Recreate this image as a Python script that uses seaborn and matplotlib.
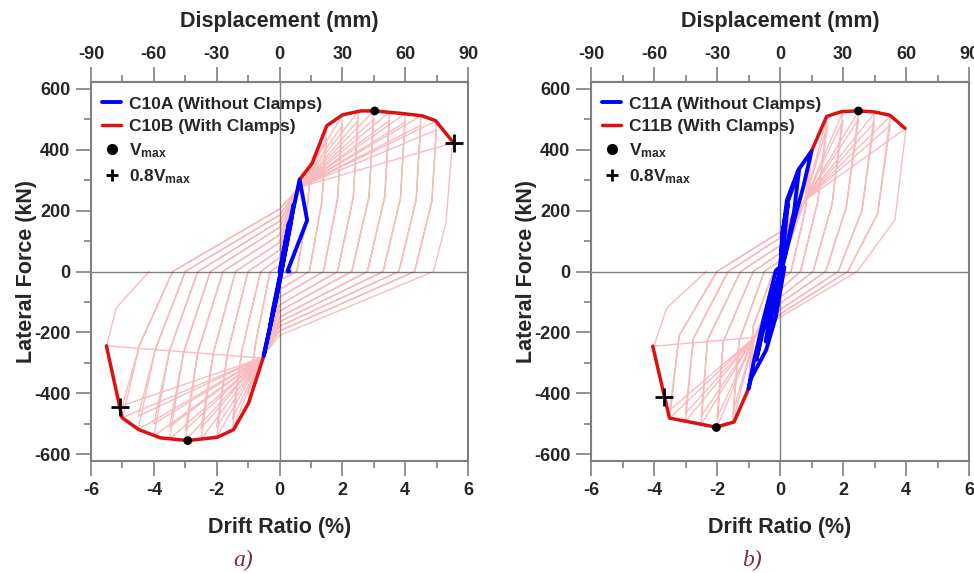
import numpy as np
import pandas as pd
import matplotlib
matplotlib.use('Agg')
import matplotlib.pyplot as plt
from matplotlib.lines import Line2D
from matplotlib.ticker import MultipleLocator
import seaborn as sns

# ---- data (drift in %, force in kN) ----
# panel a) C10A / C10B
c10a_drift = [0, 0.15, 0.3, 0.2, 0.05, -0.1, -0.3, -0.2, 0.0, 0.2, 0.45, 0.35, 0.1, -0.05,
              -0.3, -0.5, -0.4, -0.1, 0.1, 0.35, 0.64, 0.88, 0.25, 0.32]
c10a_force = [0, 80, 160, 100, 0, -80, -180, -120, -20, 100, 220, 150, 20, -60,
              -180, -277, -230, -90, 20, 160, 302, 168, 0, 0]

c10b_env_pos_drift = [0.64, 1.04, 1.5, 2.0, 2.58, 3.03, 3.96, 4.54, 4.97, 5.55]
c10b_env_pos_force = [302, 355, 478, 514, 527, 527, 518, 511, 495, 421]
c10b_env_neg_drift = [-0.5, -0.98, -1.46, -1.98, -2.92, -3.79, -4.48, -5.01, -5.51]
c10b_env_neg_force = [-277, -431, -519, -544, -555, -546, -519, -480, -244]

c10b_pos_level = [1.0, 1.5, 2.0, 2.5, 3.0, 3.5, 4.0, 4.5, 5.0, 5.5]
c10b_pos_f1 = [355, 478, 514, 525, 527, 523, 518, 511, 495, 421]
c10b_pos_f2 = [330, 440, 480, 495, 500, 495, 490, 480, 465]
c10b_pos_knee_d = [0.85, 1.35, 1.85, 2.35, 2.85, 3.35, 3.85, 4.35, 4.85, 5.3]
c10b_pos_knee_f = [170, 230, 240, 245, 245, 245, 240, 235, 230, 160]
c10b_pos_cross = [0.55, 0.95, 1.4, 1.85, 2.3, 2.8, 3.3, 3.8, 4.3, 4.9]
c10b_neg_zero = [-30, -60, -85, -110, -130, -150, -165, -180, -195, -210]
c10b_neg_level = [-1.0, -1.5, -2.0, -2.5, -3.0, -3.5, -4.0, -4.5, -5.0, -5.5]
c10b_neg_f1 = [-431, -519, -544, -551, -555, -550, -540, -519, -480, -244]
c10b_neg_f2 = [-400, -485, -510, -515, -520, -510, -500, -475, -440]
c10b_neg_knee_d = [-0.75, -1.2, -1.65, -2.1, -2.6, -3.05, -3.5, -3.95, -4.45, -5.2]
c10b_neg_knee_f = [-230, -260, -265, -265, -265, -265, -260, -255, -240, -120]
c10b_neg_cross = [-0.3, -0.6, -1.0, -1.4, -1.8, -2.2, -2.6, -3.0, -3.4, -4.15]
c10b_pos_zero = [20, 45, 70, 95, 120, 145, 165, 185, 205, 225]
c10b_pinch = [(0.64, 277), (-0.57, -284)]

c10_vmax_drift = [3.03, -2.92]
c10_vmax_force = [527, -555]
c10_v80_drift = [5.55, -5.09]
c10_v80_force = [421, -445]

# panel b) C11A / C11B
c11a_drift = [0, 0.08, 0.25, 0.15, 0.0, -0.2, -0.45, -0.3, 0.0,
              0.08, 0.25, 0.6, 0.45, 0.15, -0.1, -0.5, -0.75, -0.55, -0.2, 0.02,
              0.08, 0.22, 0.58, 1.0, 0.74, 0.42, 0.1, -0.13, -0.5, -0.82, -1.0,
              -0.92, -0.44, -0.13, 0.14, 0.0]
c11a_force = [0, 120, 220, 120, 0, -120, -230, -130, 0,
              130, 230, 330, 200, 50, -40, -160, -290, -200, -80, 0,
              120, 234, 333, 395, 278, 157, 25, 3, -148, -290, -385,
              -351, -258, -148, 14, 0]

c11b_env_pos_drift = [1.0, 1.48, 1.96, 2.49, 2.98, 3.49, 3.97]
c11b_env_pos_force = [395, 509, 525, 527, 524, 513, 470]
c11b_env_neg_drift = [-1.0, -1.46, -2.03, -3.51, -4.04]
c11b_env_neg_force = [-385, -494, -511, -481, -245]

c11b_pos_level = [1.0, 1.5, 2.0, 2.5, 3.0, 3.5, 4.0]
c11b_pos_f1 = [395, 508, 525, 527, 520, 510, 470]
c11b_pos_f2 = [370, 475, 495, 500, 490, 480]
c11b_pos_knee_d = [0.8, 1.2, 1.65, 2.1, 2.6, 3.1, 3.65]
c11b_pos_knee_f = [200, 230, 220, 210, 200, 190, 170]
c11b_pos_cross = [0.35, 0.65, 1.05, 1.45, 1.85, 2.15, 2.45]
c11b_neg_zero = [-30, -60, -85, -105, -125, -140, -150]
c11b_neg_level = [-1.0, -1.5, -2.0, -2.5, -3.0, -3.5, -4.0]
c11b_neg_f1 = [-385, -497, -511, -502, -492, -481, -245]
c11b_neg_f2 = [-360, -465, -480, -475, -465, -455]
c11b_neg_knee_d = [-0.85, -1.3, -1.8, -2.3, -2.75, -3.2, -3.6]
c11b_neg_knee_f = [-180, -230, -230, -225, -220, -210, -120]
c11b_neg_cross = [-0.2, -0.5, -0.85, -1.25, -1.65, -2.0, -2.34]
c11b_pos_zero = [15, 35, 60, 85, 110, 130, 145]
c11b_pinch = [(0.79, 234), (-0.82, -217)]

c11_vmax_drift = [2.49, -2.02]
c11_vmax_force = [527, -512]
c11_v80_drift = [-3.68]
c11_v80_force = [-411]


def loops_table(pos_lv, pos_f1, pos_f2, pos_kd, pos_kf, pos_cross, neg_zero,
                neg_lv, neg_f1, neg_f2, neg_kd, neg_kf, neg_cross, pos_zero, pinch):
    # chain the read-off key points of each cycle into one path
    d, f = [0.0], [0.0]
    n = len(pos_lv)
    for i in range(n):
        peaks = [(pos_f1[i], neg_f1[i])]
        if i < len(pos_f2):
            peaks.append((pos_f2[i], neg_f2[i]))
        for k, (fp, fn) in enumerate(peaks):
            d += [pinch[0][0], pos_lv[i], pos_kd[i], pos_cross[i], 0.0,
                  pinch[1][0], neg_lv[i], neg_kd[i], neg_cross[i]]
            f += [pinch[0][1], fp, pos_kf[i], 0.0, neg_zero[i],
                  pinch[1][1], fn, neg_kf[i], 0.0]
            if not (i == n - 1 and k == len(peaks) - 1):
                d.append(0.0)
                f.append(pos_zero[i])
    return pd.DataFrame({'drift': d, 'force': f})


c10b_loops = loops_table(c10b_pos_level, c10b_pos_f1, c10b_pos_f2, c10b_pos_knee_d, c10b_pos_knee_f,
                         c10b_pos_cross, c10b_neg_zero,
                         c10b_neg_level, c10b_neg_f1, c10b_neg_f2, c10b_neg_knee_d, c10b_neg_knee_f,
                         c10b_neg_cross, c10b_pos_zero, c10b_pinch)
c11b_loops = loops_table(c11b_pos_level, c11b_pos_f1, c11b_pos_f2, c11b_pos_knee_d, c11b_pos_knee_f,
                         c11b_pos_cross, c11b_neg_zero,
                         c11b_neg_level, c11b_neg_f1, c11b_neg_f2, c11b_neg_knee_d, c11b_neg_knee_f,
                         c11b_neg_cross, c11b_pos_zero, c11b_pinch)

# ---- style ----
sns.set_theme(style='white')
plt.rcParams['font.family'] = ['Liberation Sans', 'DejaVu Sans']
plt.rcParams['font.weight'] = 'bold'
plt.rcParams['axes.labelweight'] = 'bold'
plt.rcParams['axes.unicode_minus'] = False
plt.rcParams['mathtext.fontset'] = 'custom'
plt.rcParams['mathtext.rm'] = 'Liberation Sans:bold'
plt.rcParams['mathtext.it'] = 'Liberation Sans:bold'
plt.rcParams['mathtext.bf'] = 'Liberation Sans:bold'

RED = '#dd1111'
THIN = '#e8232a'
BLUE = '#0000ff'
GRAY = '#7f7f7f'

fig = plt.figure(figsize=(9.74, 5.73), dpi=100)
ax_a = fig.add_axes([91 / 974, 1 - 461 / 573, 377 / 974, 379 / 573])
ax_b = fig.add_axes([591 / 974, 1 - 461 / 573, 378 / 974, 379 / 573])

panels = [
    (ax_a, 'C10', c10a_drift, c10a_force, c10b_loops,
     (c10b_env_pos_drift, c10b_env_pos_force), (c10b_env_neg_drift, c10b_env_neg_force),
     (c10_vmax_drift, c10_vmax_force), (c10_v80_drift, c10_v80_force), 'a)', 0.403),
    (ax_b, 'C11', c11a_drift, c11a_force, c11b_loops,
     (c11b_env_pos_drift, c11b_env_pos_force), (c11b_env_neg_drift, c11b_env_neg_force),
     (c11_vmax_drift, c11_vmax_force), (c11_v80_drift, c11_v80_force), 'b)', 0.426),
]

for ax, name, a_d, a_f, loops, env_p, env_n, vmax, v80, tag, tag_x in panels:
    ax.axhline(0, color=GRAY, lw=1, zorder=1)
    ax.axvline(0, color=GRAY, lw=1, zorder=1)

    sns.lineplot(data=loops, x='drift', y='force', sort=False, estimator=None,
                 color=THIN, alpha=0.3, lw=1.0, ax=ax, zorder=2)
    sns.lineplot(x=env_p[0], y=env_p[1], sort=False, estimator=None, color=RED, lw=2.5, ax=ax, zorder=3)
    sns.lineplot(x=env_n[0], y=env_n[1], sort=False, estimator=None, color=RED, lw=2.5, ax=ax, zorder=3)
    sns.lineplot(x=a_d, y=a_f, sort=False, estimator=None, color=BLUE, lw=2.8, ax=ax, zorder=4)
    sns.scatterplot(x=vmax[0], y=vmax[1], color='black', s=40, edgecolor='none', ax=ax, zorder=5)
    sns.scatterplot(x=v80[0], y=v80[1], color='black', marker='+', s=160, linewidth=2, ax=ax, zorder=5)

    ax.set_xlim(-6, 6)
    ax.set_ylim(-622, 622)
    ax.xaxis.set_major_locator(MultipleLocator(2))
    ax.xaxis.set_minor_locator(MultipleLocator(1))
    ax.yaxis.set_major_locator(MultipleLocator(200))
    ax.yaxis.set_minor_locator(MultipleLocator(100))
    ax.tick_params(which='major', direction='out', length=11, width=1.2, color=GRAY,
                   labelsize=13, pad=4, bottom=True, left=True)
    ax.tick_params(which='minor', direction='out', length=5, width=1.2, color=GRAY,
                   bottom=True, left=True)
    for lab in ax.get_xticklabels() + ax.get_yticklabels():
        lab.set_fontweight('bold')
    for sp in ax.spines.values():
        sp.set_color(GRAY)
        sp.set_linewidth(1.5)

    ax.set_xlabel('Drift Ratio (%)', fontsize=15.5, fontweight='bold', labelpad=13)
    ax.set_ylabel('Lateral Force (kN)', fontsize=15.5, fontweight='bold', labelpad=-2)

    top = ax.secondary_xaxis('top', functions=(lambda x: x * 15, lambda x: x / 15))
    top.xaxis.set_major_locator(MultipleLocator(30))
    top.xaxis.set_minor_locator(MultipleLocator(15))
    top.tick_params(which='major', direction='out', length=11, width=1.2, color=GRAY,
                    labelsize=13, pad=3)
    top.tick_params(which='minor', direction='out', length=5, width=1.2, color=GRAY)
    for lab in top.get_xticklabels():
        lab.set_fontweight('bold')
    top.spines['top'].set_color(GRAY)
    top.spines['top'].set_linewidth(1.5)
    top.set_xlabel('Displacement (mm)', fontsize=15.5, fontweight='bold', labelpad=13)

    handles = [
        Line2D([], [], color=BLUE, lw=2.8),
        Line2D([], [], color=RED, lw=2.5),
        Line2D([], [], color='black', marker='o', ls='none', markersize=7),
        Line2D([], [], color='black', marker='+', ls='none', markersize=8, markeredgewidth=2),
    ]
    labels = [f'{name}A (Without Clamps)', f'{name}B (With Clamps)',
              r'$\mathrm{V_{max}}$', r'$\mathrm{0.8V_{max}}$']
    ax.legend(handles, labels, loc='upper left', bbox_to_anchor=(0.03, 0.962),
              frameon=False, handlelength=1.1, handletextpad=0.45,
              labelspacing=0.42, borderaxespad=0, borderpad=0,
              prop={'weight': 'bold', 'size': 12.5})

    pos = ax.get_position()
    fig.text(pos.x0 + pos.width * tag_x, 1 - 560 / 573, tag, ha='center', va='center',
             fontsize=17, style='italic', fontweight='normal', family='Liberation Serif',
             color='#7b2a3e')

fig.savefig('out.png', dpi=100)
